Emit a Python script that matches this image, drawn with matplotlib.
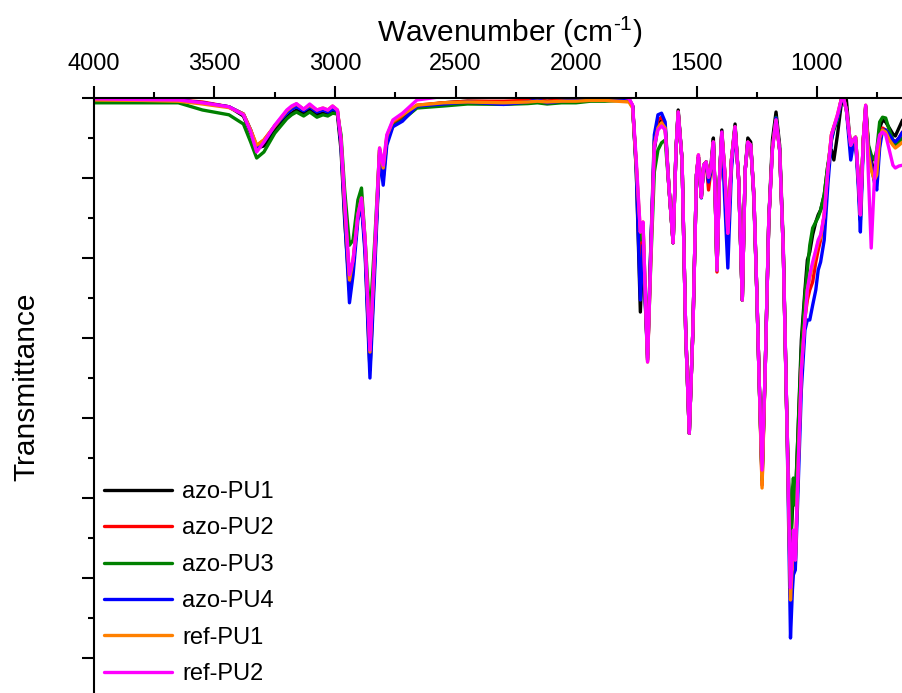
import matplotlib
matplotlib.use("Agg")
import matplotlib.pyplot as plt
from matplotlib.ticker import FixedLocator, MultipleLocator

plt.rcParams["font.family"] = ["Liberation Sans", "DejaVu Sans"]
plt.rcParams["mathtext.fontset"] = "custom"
plt.rcParams["mathtext.rm"] = "Liberation Sans"
plt.rcParams["mathtext.it"] = "Liberation Sans:italic"

# FTIR spectra: wavenumber (cm-1) and transmittance (a.u.)
wavenumber = [4000, 3800, 3650, 3550, 3440, 3380, 3350, 3325, 3295, 3250,
              3200, 3180, 3160, 3130, 3105, 3075, 3050, 3030, 3010, 2990,
              2975, 2960, 2940, 2925, 2905, 2890, 2875, 2855, 2835, 2815,
              2800, 2785, 2760, 2720, 2660, 2550, 2450, 2300, 2200, 2160,
              2120, 2060, 2000, 1940, 1880, 1800, 1780, 1765, 1750, 1733,
              1722, 1703, 1690, 1675, 1660, 1645, 1630, 1615, 1597, 1585,
              1576, 1560, 1545, 1530, 1515, 1500, 1492, 1480, 1470, 1460,
              1450, 1440, 1430, 1422, 1415, 1405, 1395, 1383, 1370, 1355,
              1340, 1325, 1310, 1298, 1287, 1275, 1262, 1250, 1240, 1228,
              1215, 1200, 1185, 1170, 1155, 1140, 1125, 1110, 1102, 1098,
              1090, 1080, 1065, 1050, 1040, 1030, 1018, 1005, 995, 985,
              970, 955, 940, 930, 915, 900, 890, 878, 860, 850,
              840, 828, 820, 808, 798, 786, 775, 762, 752, 740,
              728, 715, 700, 685, 675, 660, 645]

azo_pu1 = [99.75, 99.75, 99.7, 99.4, 98.9, 97.75, 95.6, 93.75, 94.0, 96.0,
           97.6, 98.1, 98.5, 98.0, 98.5, 97.9, 98.1, 97.9, 98.25, 98.0,
           93.5, 84.75, 76.0, 79.1, 85.4, 87.25, 81.0, 66.0, 79.75, 92.9,
           90.0, 94.75, 96.75, 97.6, 99.0, 99.4, 99.6, 99.5, 99.6, 99.75,
           99.6, 99.75, 99.8, 99.8, 99.9, 99.9, 99.8, 99.0, 91.0, 73.25,
           81.0, 67.9, 81.0, 93.5, 96.6, 97.5, 96.25, 89.1, 81.9, 93.5,
           98.5, 92.25, 71.0, 58.1, 71.0, 90.4, 92.6, 87.6, 91.6, 92.0,
           90.0, 91.6, 95.0, 87.25, 78.5, 89.75, 96.0, 90.75, 82.9, 92.25,
           96.75, 89.75, 74.75, 91.0, 95.0, 94.5, 87.25, 76.0, 64.75, 52.9,
           66.0, 84.75, 94.75, 98.25, 94.1, 81.6, 59.75, 43.5, 48.5, 51.0,
           49.75, 57.25, 69.75, 76.0, 79.75, 80.75, 82.9, 84.5, 85.4, 86.0,
           87.9, 91.6, 93.5, 92.25, 95.4, 99.1, 100.0, 99.75, 93.5, 94.5,
           94.75, 89.5, 84.75, 94.75, 98.75, 93.5, 92.25, 90.4, 90.75, 96.25,
           97.25, 97.0, 96.25, 95.5, 95.25, 96.25, 97.25]

azo_pu2 = [99.9, 99.8, 99.75, 99.5, 98.9, 98.0, 96.0, 94.0, 94.75, 96.5,
           98.25, 98.6, 99.0, 98.5, 99.0, 98.4, 98.6, 98.4, 98.75, 98.4,
           94.75, 86.6, 77.0, 79.5, 85.4, 87.25, 81.6, 67.25, 80.4, 93.5,
           90.75, 95.0, 96.75, 97.75, 99.1, 99.4, 99.6, 99.6, 99.7, 99.75,
           99.6, 99.75, 99.8, 99.8, 99.9, 99.9, 99.8, 99.0, 91.6, 79.1,
           82.9, 67.25, 80.4, 94.75, 97.25, 97.6, 96.6, 89.1, 81.9, 93.5,
           98.25, 92.25, 71.0, 58.1, 71.0, 90.4, 92.6, 87.6, 91.6, 92.0,
           88.5, 91.0, 94.5, 87.25, 78.25, 89.75, 95.6, 90.5, 82.9, 92.0,
           96.4, 89.75, 74.75, 91.0, 94.5, 94.1, 87.9, 76.0, 64.75, 51.6,
           66.0, 84.75, 93.75, 97.5, 93.5, 81.0, 59.75, 37.9, 42.25, 44.1,
           41.6, 52.25, 66.0, 72.5, 74.75, 76.0, 77.0, 79.5, 81.0, 82.25,
           85.4, 91.0, 95.4, 96.4, 97.5, 99.75, 100.0, 98.5, 93.75, 94.75,
           95.1, 89.75, 85.4, 94.75, 99.0, 93.5, 91.6, 89.75, 90.0, 94.75,
           96.25, 96.0, 95.25, 94.75, 94.5, 95.0, 95.75]

azo_pu3 = [99.4, 99.4, 99.4, 98.5, 97.9, 96.75, 94.5, 92.5, 93.25, 95.6,
           97.4, 97.9, 98.25, 97.75, 98.25, 97.6, 97.9, 97.75, 98.1, 98.0,
           95.4, 88.5, 81.6, 82.25, 87.25, 88.75, 82.25, 72.25, 82.25, 93.5,
           91.0, 94.75, 96.5, 97.25, 98.75, 99.0, 99.25, 99.2, 99.3, 99.4,
           99.25, 99.4, 99.4, 99.6, 99.6, 99.7, 99.6, 98.9, 91.6, 82.25,
           84.1, 67.5, 79.1, 90.75, 93.5, 94.4, 94.75, 89.1, 81.9, 93.5,
           98.1, 92.25, 71.0, 58.1, 71.0, 90.4, 92.6, 87.6, 91.6, 92.0,
           89.75, 91.25, 94.5, 87.25, 78.5, 89.75, 95.6, 90.75, 82.9, 92.25,
           96.4, 89.75, 74.75, 91.0, 94.5, 94.1, 87.9, 76.0, 64.75, 52.25,
           66.0, 84.75, 93.75, 97.6, 93.5, 81.0, 59.75, 42.25, 51.0, 52.5,
           49.1, 57.25, 68.5, 75.4, 78.5, 81.6, 83.75, 84.5, 85.1, 86.0,
           87.9, 91.6, 94.75, 96.0, 97.25, 99.75, 100.0, 98.5, 93.75, 94.75,
           95.1, 89.75, 85.4, 94.75, 99.0, 94.1, 92.9, 92.25, 93.5, 97.0,
           97.6, 97.5, 96.0, 94.75, 94.1, 94.5, 95.0]

azo_pu4 = [99.9, 99.8, 99.75, 99.4, 98.9, 98.0, 96.0, 93.75, 94.5, 96.5,
           98.1, 98.6, 98.9, 98.4, 98.9, 98.25, 98.5, 98.25, 98.6, 98.4,
           94.1, 85.4, 74.4, 77.9, 84.75, 86.6, 80.4, 65.0, 78.5, 92.9,
           89.1, 94.1, 96.4, 97.1, 99.0, 99.25, 99.5, 99.2, 99.5, 99.8,
           99.4, 99.6, 99.8, 99.7, 99.9, 99.95, 99.9, 99.0, 91.0, 74.75,
           81.6, 67.25, 81.0, 95.4, 97.9, 98.1, 97.0, 89.1, 81.9, 93.5,
           98.25, 92.25, 71.0, 58.1, 71.0, 90.4, 92.6, 87.5, 91.6, 92.0,
           89.5, 91.0, 94.5, 87.25, 78.5, 89.75, 95.6, 87.25, 78.75, 91.0,
           96.4, 89.75, 74.75, 91.0, 94.5, 94.1, 87.9, 76.0, 64.75, 52.5,
           66.0, 84.75, 93.75, 97.5, 93.5, 81.0, 59.75, 32.5, 38.5, 40.4,
           41.0, 49.75, 63.5, 71.0, 72.25, 72.25, 74.1, 76.0, 78.5, 79.5,
           82.25, 89.1, 94.75, 96.25, 97.5, 99.5, 100.0, 98.5, 92.25, 94.1,
           94.75, 88.5, 83.25, 94.1, 98.9, 93.5, 91.6, 89.5, 88.5, 93.75,
           96.0, 96.0, 95.4, 94.75, 94.5, 95.0, 95.75]

ref_pu1 = [99.75, 99.7, 99.6, 99.25, 98.8, 98.0, 96.0, 94.1, 94.75, 96.5,
           98.4, 98.9, 99.25, 98.6, 99.1, 98.5, 98.75, 98.5, 99.0, 98.5,
           94.75, 86.6, 77.25, 79.75, 85.4, 87.5, 82.25, 68.25, 80.75, 93.75,
           91.25, 95.25, 97.1, 97.9, 99.1, 99.4, 99.5, 99.4, 99.5, 99.6,
           99.5, 99.6, 99.6, 99.7, 99.7, 99.55, 99.5, 98.75, 91.6, 83.25,
           84.5, 67.0, 79.75, 94.1, 96.25, 96.9, 96.25, 89.1, 81.9, 93.5,
           98.25, 92.25, 71.0, 58.1, 71.0, 90.4, 92.9, 87.6, 91.6, 92.0,
           90.1, 91.25, 94.5, 87.25, 78.5, 89.75, 95.6, 91.0, 83.1, 92.25,
           96.4, 89.75, 74.75, 91.0, 94.5, 94.1, 87.9, 76.0, 64.75, 51.25,
           66.0, 84.75, 93.75, 97.25, 93.5, 81.0, 59.75, 37.25, 42.25, 44.1,
           42.25, 52.25, 66.0, 72.5, 76.0, 77.5, 79.1, 80.75, 82.0, 82.6,
           85.4, 91.0, 95.4, 96.4, 97.9, 99.75, 100.0, 98.5, 94.1, 94.75,
           95.1, 89.75, 85.4, 94.75, 99.1, 92.9, 91.0, 89.75, 90.4, 95.0,
           96.0, 95.75, 94.75, 94.1, 93.75, 94.1, 94.5]

ref_pu2 = [99.9, 99.8, 99.75, 99.4, 98.9, 97.9, 95.75, 93.25, 94.5, 96.6,
           98.5, 99.0, 99.3, 98.6, 99.25, 98.5, 98.75, 98.5, 99.0, 98.5,
           94.75, 87.25, 77.9, 79.75, 85.4, 87.5, 82.25, 68.5, 81.0, 93.75,
           91.6, 95.4, 97.25, 98.1, 99.75, 100.2, 100.2, 100.2, 100.2, 100.2,
           100.2, 100.2, 100.2, 100.2, 100.2, 100.1, 99.95, 99.1, 92.25, 83.25,
           84.5, 67.0, 79.75, 93.9, 96.0, 96.5, 96.0, 89.1, 81.9, 93.5,
           98.25, 92.25, 71.0, 58.1, 71.0, 90.4, 92.9, 87.6, 91.6, 92.0,
           90.1, 91.25, 94.5, 87.25, 78.5, 89.75, 95.75, 91.0, 83.1, 92.25,
           96.4, 89.75, 74.75, 91.0, 94.5, 94.1, 87.9, 76.0, 64.75, 53.5,
           66.0, 84.75, 93.5, 97.25, 93.5, 81.0, 59.75, 38.75, 42.9, 46.0,
           42.25, 52.25, 66.0, 72.25, 76.0, 77.9, 79.5, 81.0, 82.25, 82.9,
           85.4, 91.0, 95.4, 96.4, 97.9, 99.75, 100.0, 98.5, 94.1, 94.75,
           95.1, 89.75, 85.4, 94.75, 99.1, 89.75, 81.25, 89.75, 93.5, 95.4,
           95.75, 95.4, 93.5, 91.6, 91.25, 91.5, 91.6]

series_labels = ["azo-PU1", "azo-PU2", "azo-PU3", "azo-PU4", "ref-PU1", "ref-PU2"]
series_values = [azo_pu1, azo_pu2, azo_pu3, azo_pu4, ref_pu1, ref_pu2]
series_colors = ["#000000", "#FF0000", "#008000", "#0000FF", "#FF8000", "#FF00FF"]

x_major = [4000, 3500, 3000, 2500, 2000, 1500, 1000]

W, H = 902, 693
fig = plt.figure(figsize=(W / 100, H / 100), dpi=100)

# Axes: left edge at 4000 cm-1, top spine at T = 100; it runs past the
# right and bottom edges of the canvas
left_px, top_px = 94, 98
px_per_wn = 120.5 / 500
px_per_t = 8.0
x_lo, x_hi = 4000, 400
y_lo, y_hi = 0, 100
w_px = (x_lo - x_hi) * px_per_wn
h_px = (y_hi - y_lo) * px_per_t
ax = fig.add_axes([left_px / W, (H - top_px - h_px) / H, w_px / W, h_px / H])

for vals, lab, col in zip(series_values, series_labels, series_colors):
    ax.plot(wavenumber, vals, color=col, lw=2.4, label=lab,
            solid_joinstyle="round", solid_capstyle="round")

ax.set_xlim(x_lo, x_hi)
ax.set_ylim(y_lo, y_hi)

for s in ("right", "bottom"):
    ax.spines[s].set_visible(False)
for s in ("top", "left"):
    ax.spines[s].set_linewidth(1.5)

ax.xaxis.tick_top()
ax.xaxis.set_major_locator(FixedLocator(x_major))
ax.xaxis.set_minor_locator(MultipleLocator(250))
ax.yaxis.set_major_locator(MultipleLocator(10))
ax.yaxis.set_minor_locator(MultipleLocator(5))
ax.tick_params(axis="both", which="major", direction="out", length=8.5,
               width=1.5, labelsize=17, pad=8)
ax.tick_params(axis="both", which="minor", direction="out", length=4.3,
               width=1.5)
ax.tick_params(axis="y", which="both", labelleft=False)

fig.text(509.5 / W, 1 - 42 / H, r"Wavenumber (cm$^{\text{-1}}$)", fontsize=21.5,
         ha="center", va="baseline")
fig.text(26 / W, 1 - 387 / H, "Transmittance", fontsize=21.5,
         rotation=90, ha="center", va="center")

ax.legend(loc="lower left", bbox_to_anchor=(104 / W, 8 / H),
          bbox_transform=fig.transFigure, frameon=False, fontsize=17,
          handlelength=2.9, handletextpad=0.42, labelspacing=0.61,
          borderpad=0, borderaxespad=0)

fig.savefig("out.png", dpi=100)
